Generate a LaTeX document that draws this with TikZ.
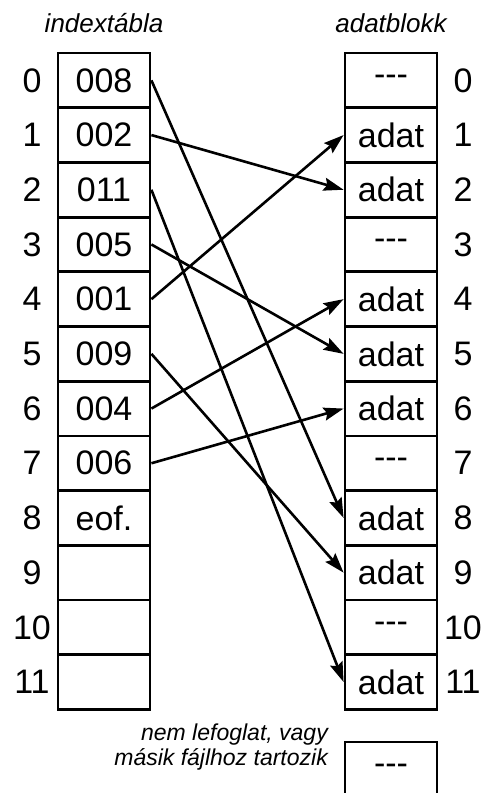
\documentclass[tikz,border=0pt]{standalone}
\usepackage{fontspec}
\setmainfont{Liberation Sans}
\usetikzlibrary{arrows.meta}
\newcommand\mydashes{-{}-{}-}
\tikzset{
  cell/.style={draw, line width=2.8pt, minimum width=92pt, minimum height=54.7pt, inner sep=0pt, font=\fontsize{34}{36}\selectfont},
  idx/.style={inner sep=0pt, font=\fontsize{34}{36}\selectfont},
  ttl/.style={inner sep=0pt, anchor=base, font=\fontsize{26}{28}\selectfont\itshape},
  arr/.style={line width=2.6pt, -{Stealth[length=20pt,width=13pt,inset=3pt]}}
}
\begin{document}
\begin{tikzpicture}[x=1pt,y=-1pt]
\useasboundingbox (0,0) rectangle (497,793);
\node[ttl] (tl) at (104,32) {indextábla};
\node[ttl] (tr) at (391,32) {adatblokk};
\foreach \i/\t in {0/008,1/002,2/011,3/005,4/001,5/009,6/004,7/006,8/eof.,9/{},10/{},11/{}} {
  \node[cell] (L\i) at (104,{53+54.7*(\i+0.5)}) {\t};
  \node[idx] (ln\i) at (32,{53+54.7*(\i+0.5)}) {\i};
}
\foreach \i/\t in {0/\mydashes,1/adat,2/adat,3/\mydashes,4/adat,5/adat,6/adat,7/\mydashes,8/adat,9/adat,10/\mydashes,11/adat} {
  \node[cell] (R\i) at (391,{53+54.7*(\i+0.5)}) {\t};
  \node[idx] (rn\i) at (463,{53+54.7*(\i+0.5)}) {\i};
}
\foreach \a/\b in {0/8,1/2,2/11,3/5,4/1,5/9,6/4,7/6} {
  \draw[arr] (L\a.east) -- (R\b.west);
}
\node[cell] (leg) at (391,{742+27.35}) {\mydashes};
\node[inner sep=0pt, anchor=base east, align=right, font=\fontsize{23}{25}\selectfont\itshape] (legt) at (328,765) {nem lefoglat, vagy\\másik fájlhoz tartozik};
\end{tikzpicture}
\end{document}
